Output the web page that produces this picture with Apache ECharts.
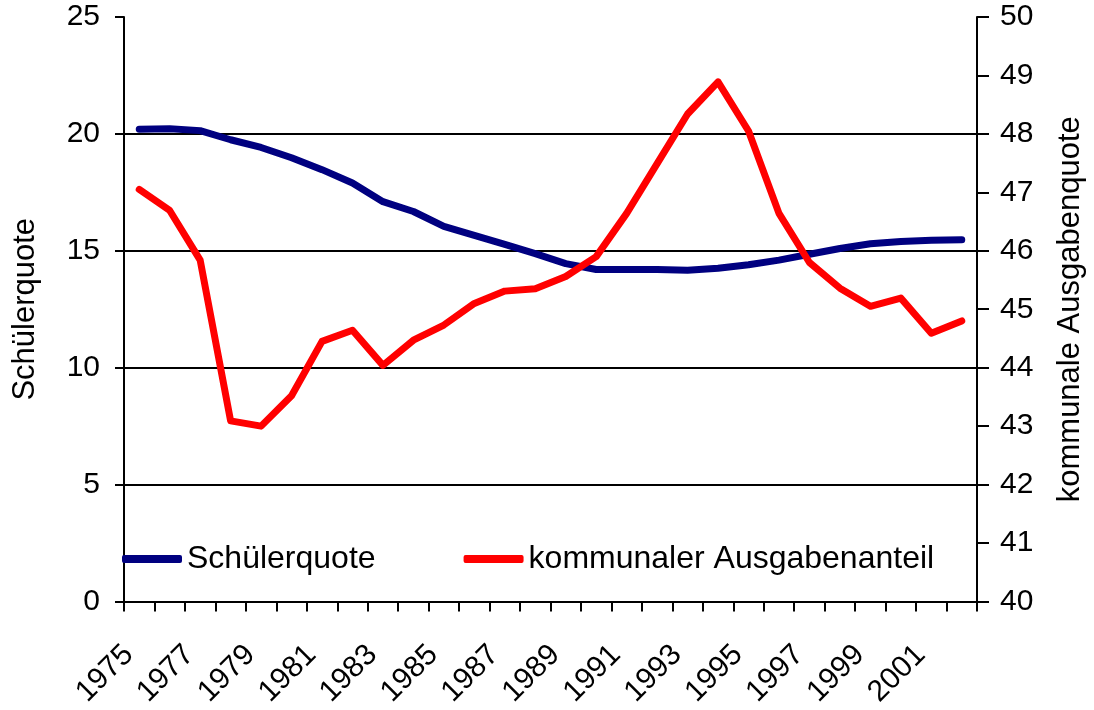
<!DOCTYPE html>
<html lang="de">
<head>
    <meta charset="UTF-8">
    <title>Schülerquote und kommunaler Ausgabenanteil</title>
    <script src="https://cdn.jsdelivr.net/npm/echarts@6/dist/echarts.min.js"></script>
</head>
<body style="margin:0">
    <div id="main" style="width:1094px;height:710px;background:#fff;"></div>
    <script>
        // Jahre 1975 - 2002
        const years = ['1975', '1976', '1977', '1978', '1979', '1980', '1981', '1982', '1983', '1984',
            '1985', '1986', '1987', '1988', '1989', '1990', '1991', '1992', '1993', '1994',
            '1995', '1996', '1997', '1998', '1999', '2000', '2001', '2002'];

        // Schülerquote (linke Achse)
        const schuelerquote = [20.2, 20.22, 20.14, 19.75, 19.42, 18.98, 18.47, 17.9, 17.1, 16.68,
            16.04, 15.66, 15.27, 14.88, 14.45, 14.2, 14.2, 14.2, 14.17, 14.25,
            14.4, 14.6, 14.85, 15.1, 15.3, 15.4, 15.45, 15.47];

        // kommunaler Ausgabenanteil (rechte Achse)
        const ausgabenanteil = [47.05, 46.69, 45.84, 43.09, 43.0, 43.52, 44.45, 44.64, 44.04, 44.47,
            44.73, 45.1, 45.31, 45.35, 45.56, 45.9, 46.64, 47.49, 48.34, 48.89,
            48.05, 46.64, 45.8, 45.36, 45.05, 45.19, 44.59, 44.8];

        const leftTicks = [0, 25, 5];   // min, max, interval
        const rightTicks = [40, 50, 1];

        const font = 'Liberation Sans, Arial, sans-serif';
        const chart = echarts.init(document.getElementById('main'));

        chart.setOption({
            animation: false,
            textStyle: { fontFamily: font, color: '#000' },
            grid: { left: 124, right: 112, top: 17, bottom: 106, containLabel: false },
            legend: {
                left: 122,
                top: 543,
                padding: 0,
                itemGap: 88,
                itemWidth: 60,
                itemHeight: 8,
                icon: 'roundRect',
                textStyle: { fontFamily: font, fontSize: 32, color: '#000' },
                data: ['Schülerquote', 'kommunaler Ausgabenanteil']
            },
            xAxis: {
                type: 'category',
                data: years,
                boundaryGap: true,
                axisLine: { lineStyle: { color: '#000', width: 2 } },
                axisTick: { show: true, interval: 0, length: 10, lineStyle: { color: '#000', width: 2 } },
                axisLabel: {
                    interval: 1, rotate: 45, fontSize: 30, color: '#000', margin: 38,
                    padding: [0, 15, 0, 0], fontFamily: font
                },
                splitLine: { show: false }
            },
            yAxis: [{
                type: 'value',
                min: leftTicks[0],
                max: leftTicks[1],
                interval: leftTicks[2],
                name: 'Schülerquote',
                nameLocation: 'middle',
                nameRotate: 90,
                nameGap: 83,
                nameTextStyle: { fontSize: 31, color: '#000', fontFamily: font },
                axisLine: { show: true, lineStyle: { color: '#000', width: 2 } },
                axisTick: { show: true, length: 9, lineStyle: { color: '#000', width: 2 } },
                axisLabel: { fontSize: 30, color: '#000', margin: 24, fontFamily: font },
                splitLine: { show: true, showMinLine: false, showMaxLine: false, lineStyle: { color: '#000', width: 2 } }
            }, {
                type: 'value',
                min: rightTicks[0],
                max: rightTicks[1],
                interval: rightTicks[2],
                name: 'kommunale Ausgabenquote',
                nameLocation: 'middle',
                nameRotate: 90,
                nameGap: 78,
                nameTextStyle: { fontSize: 31, color: '#000', fontFamily: font },
                axisLine: { show: true, lineStyle: { color: '#000', width: 2 } },
                axisTick: { show: true, length: 12, lineStyle: { color: '#000', width: 2 } },
                axisLabel: { fontSize: 30, color: '#000', margin: 23, fontFamily: font },
                splitLine: { show: false }
            }],
            series: [{
                name: 'Schülerquote',
                type: 'line',
                yAxisIndex: 0,
                data: schuelerquote,
                symbol: 'none',
                color: '#000080',
                lineStyle: { color: '#000080', width: 7, cap: 'round', join: 'round' }
            }, {
                name: 'kommunaler Ausgabenanteil',
                type: 'line',
                yAxisIndex: 1,
                data: ausgabenanteil,
                symbol: 'none',
                color: '#ff0000',
                lineStyle: { color: '#ff0000', width: 7, cap: 'round', join: 'round' }
            }]
        });
    </script>
</body>
</html>
